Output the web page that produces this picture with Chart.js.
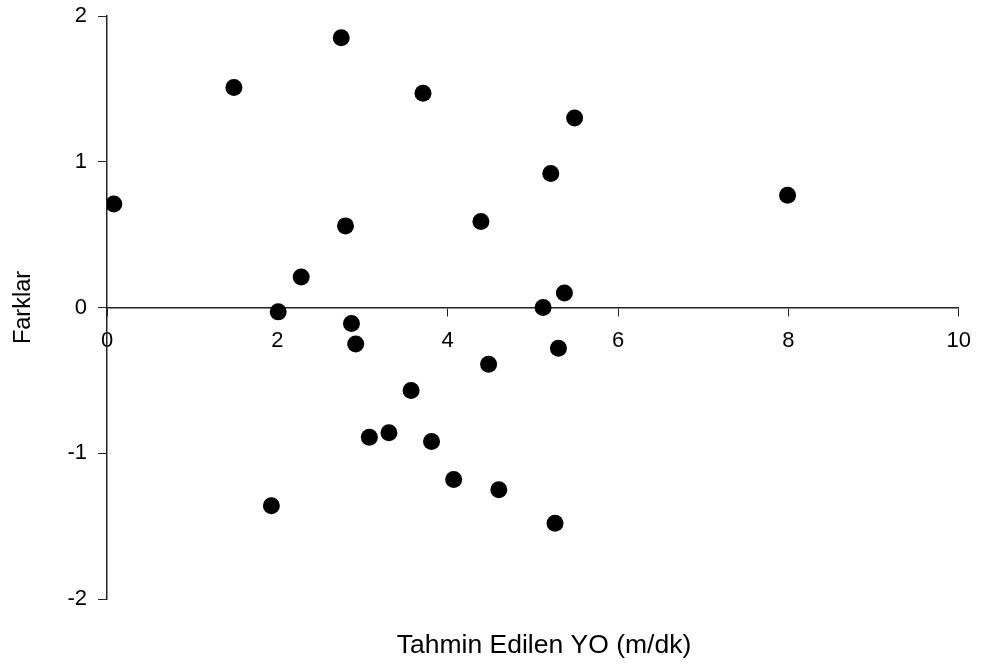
<!DOCTYPE html>
<html>
<head>
<meta charset="utf-8">
<script src="https://cdn.jsdelivr.net/npm/chart.js@4/dist/chart.umd.min.js"></script>
<style>
  html, body { margin: 0; padding: 0; background: #fff; }
  #wrap { width: 983px; height: 666px; }
</style>
</head>
<body>
<div id="wrap"><canvas id="farkChart"></canvas></div>
<script>
// Tahmin edilen YO (m/dk) vs farklar
const tahminX = [0.08, 1.49, 2.75, 3.71, 5.49, 5.21, 7.99, 4.39, 2.80, 2.28, 2.01, 5.12, 5.37,
                 2.87, 2.92, 5.30, 4.48, 3.57, 3.08, 3.31, 3.81, 4.07, 4.60, 1.93, 5.26];
const farkY = [0.71, 1.51, 1.85, 1.47, 1.30, 0.92, 0.77, 0.59, 0.56, 0.21, -0.03, 0.00, 0.10,
               -0.11, -0.25, -0.28, -0.39, -0.57, -0.89, -0.86, -0.92, -1.18, -1.25, -1.36, -1.48];
const xTicks = [0, 2, 4, 6, 8, 10];
const yTicks = [-2, -1, 0, 1, 2];
const xTitle = "Tahmin Edilen YO (m/dk)";
const yTitle = "Farklar";

const FONT = "'Liberation Sans', Arial, sans-serif";

let points = tahminX.map((x, i) => ({x: x, y: farkY[i]}));

// x title sits well below the plot, not right under the tick labels
const bottomTitle = {
    id: 'bottomTitle',
    afterDraw(chart) {
        const ctx = chart.ctx;
        ctx.save();
        ctx.font = "26.5px " + FONT;
        ctx.fillStyle = "#000";
        ctx.textAlign = "center";
        ctx.textBaseline = "alphabetic";
        ctx.fillText(xTitle, 544, 653);
        ctx.restore();
    }
};

new Chart(document.getElementById("farkChart"), {
    type: 'scatter',
    data: {
        datasets: [{
            label: yTitle,
            data: points,
            backgroundColor: '#000',
            borderColor: '#000',
            borderWidth: 0,
            pointRadius: 8.5,
            pointHoverRadius: 8.5
        }]
    },
    options: {
        responsive: true,
        maintainAspectRatio: false,
        animation: false,
        layout: {padding: {left: 0, right: 22, top: 16, bottom: 67}},
        plugins: {
            legend: {display: false},
            tooltip: {enabled: false}
        },
        scales: {
            x: {
                type: 'linear',
                position: {y: 0},
                min: 0,
                max: 10,
                afterBuildTicks: (scale) => { scale.ticks = xTicks.map(v => ({value: v})); },
                grid: {display: true, drawOnChartArea: false, drawTicks: true, tickLength: 8, color: '#222', lineWidth: 1},
                border: {display: true, color: '#222', width: 1.5},
                ticks: {color: '#000', font: {family: FONT, size: 22}, padding: 12, maxRotation: 0}
            },
            y: {
                type: 'linear',
                position: 'left',
                min: -2,
                max: 2,
                afterBuildTicks: (scale) => { scale.ticks = yTicks.map(v => ({value: v})); },
                afterFit: (scale) => {
                    scale.width = 107;
                    scale.paddingTop = 0;
                    scale.paddingBottom = 0;
                },
                grid: {display: true, drawOnChartArea: false, drawTicks: true, tickLength: 9, color: '#222', lineWidth: 1},
                border: {display: true, color: '#222', width: 1.5},
                ticks: {color: '#000', font: {family: FONT, size: 22}, padding: 11},
                title: {display: true, text: yTitle, color: '#000', font: {family: FONT, size: 23.5}, padding: {top: 9, bottom: 4}}
            }
        }
    },
    plugins: [bottomTitle]
});
</script>
</body>
</html>
